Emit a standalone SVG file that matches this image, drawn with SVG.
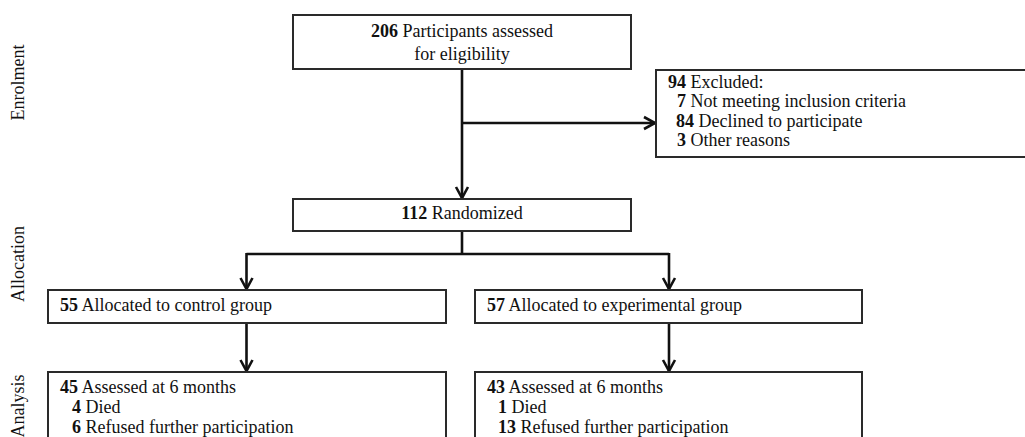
<svg xmlns="http://www.w3.org/2000/svg" width="1025" height="437" viewBox="0 0 1025 437">
<style>
text{font-family:"Liberation Serif","Times New Roman",serif;font-size:18px;fill:#111}
.b{font-weight:bold}
.box{fill:#fff;stroke:#2a2a2a;stroke-width:2}
.ln{fill:none;stroke:#111;stroke-width:2.6}
.side{font-size:18px}
</style>
<defs>
<marker id="arr" markerUnits="userSpaceOnUse" markerWidth="16" markerHeight="16" viewBox="0 0 16 16" refX="13" refY="8" orient="auto">
<path d="M2,2 L13,8 L2,14" fill="none" stroke="#111" stroke-width="2.6"/>
</marker>
</defs>
<rect width="1025" height="437" fill="#fff"/>
<g id="labels">
<text class="side" transform="translate(24,82.5) rotate(-90)" text-anchor="middle">Enrolment</text>
<text class="side" transform="translate(24,264) rotate(-90)" text-anchor="middle">Allocation</text>
<text class="side" transform="translate(24,406) rotate(-90)" text-anchor="middle">Analysis</text>
</g>
<g id="connectors">
<path class="ln" d="M462,69 V198" marker-end="url(#arr)"/>
<path class="ln" d="M462,123 H655" marker-end="url(#arr)"/>
<path class="ln" d="M462,231 V254"/>
<path class="ln" d="M246.5,254 H669"/>
<path class="ln" d="M246.5,253 V289" marker-end="url(#arr)"/>
<path class="ln" d="M669,253 V289" marker-end="url(#arr)"/>
<path class="ln" d="M246.5,323 V371" marker-end="url(#arr)"/>
<path class="ln" d="M669,323 V371" marker-end="url(#arr)"/>
</g>
<g id="n-assessed">
<rect class="box" x="293" y="15" width="338" height="54"/>
<text x="462" y="37" text-anchor="middle"><tspan class="b">206</tspan> Participants assessed</text>
<text x="462" y="60" text-anchor="middle">for eligibility</text>
</g>
<g id="n-excluded">
<rect class="box" x="656" y="70" width="380" height="87"/>
<text x="668" y="88"><tspan class="b">94</tspan> Excluded:</text>
<text x="677" y="107"><tspan class="b">7</tspan> Not meeting inclusion criteria</text>
<text x="676" y="127"><tspan class="b">84</tspan> Declined to participate</text>
<text x="677" y="146"><tspan class="b">3</tspan> Other reasons</text>
</g>
<g id="n-randomized">
<rect class="box" x="293" y="199" width="338" height="32"/>
<text x="462" y="219" text-anchor="middle"><tspan class="b">112</tspan> Randomized</text>
</g>
<g id="n-control">
<rect class="box" x="48" y="290" width="398" height="33"/>
<text x="60" y="311"><tspan class="b">55</tspan> Allocated to control group</text>
</g>
<g id="n-experimental">
<rect class="box" x="475" y="290" width="387" height="33"/>
<text x="487" y="311"><tspan class="b">57</tspan> Allocated to experimental group</text>
</g>
<g id="n-analysis-control">
<rect class="box" x="48" y="372" width="398" height="80"/>
<text x="60" y="393"><tspan class="b">45</tspan> Assessed at 6 months</text>
<text x="72" y="413"><tspan class="b">4</tspan> Died</text>
<text x="72" y="433"><tspan class="b">6</tspan> Refused further participation</text>
</g>
<g id="n-analysis-experimental">
<rect class="box" x="475" y="372" width="387" height="80"/>
<text x="487" y="393"><tspan class="b">43</tspan> Assessed at 6 months</text>
<text x="498" y="413"><tspan class="b">1</tspan> Died</text>
<text x="498" y="433"><tspan class="b">13</tspan> Refused further participation</text>
</g>
</svg>
